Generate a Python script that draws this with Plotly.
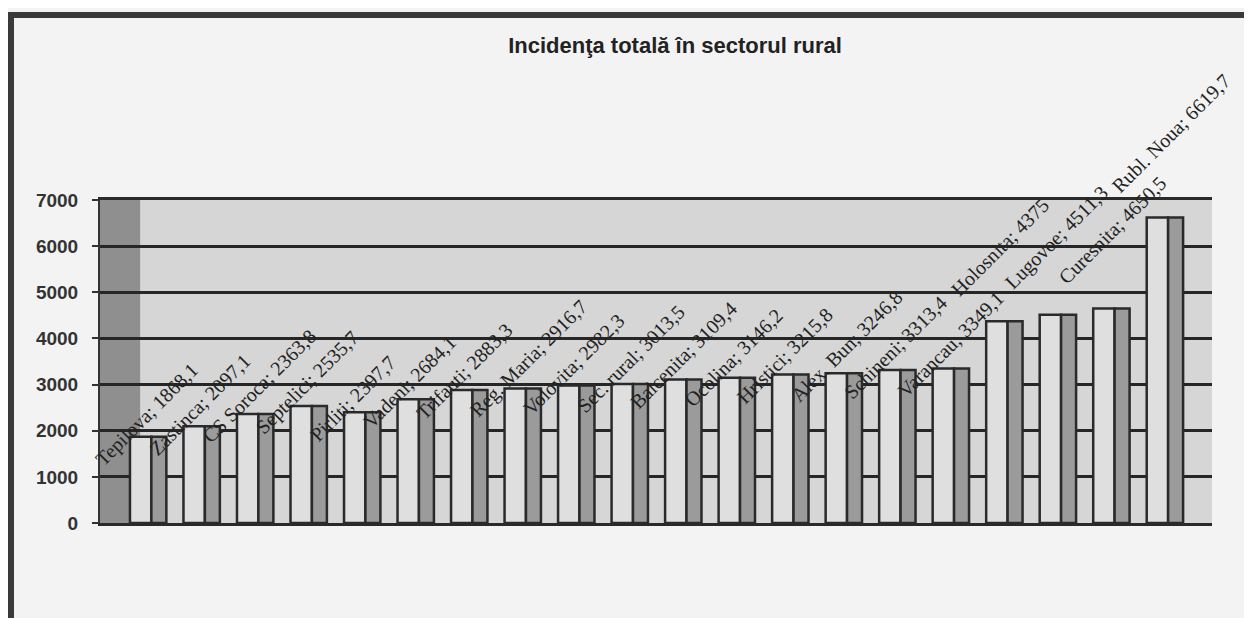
import plotly.graph_objects as go

# %% data
villages = [
    "Tepilova", "Zastinca", "CS Soroca", "Septelici", "Pirliti",
    "Vadeni", "Trifauti", "Reg. Maria", "Volovita", "Sec. rural",
    "Balcenita", "Ocolina", "Hristici", "Alex. Bun", "Schineni",
    "Varancau", "Holosnita", "Lugovoe", "Curesnita", "Rubl. Noua",
]
incidence = [
    1868.1, 2097.1, 2363.8, 2535.7, 2397.7,
    2684.1, 2883.3, 2916.7, 2982.3, 3013.5,
    3109.4, 3146.2, 3215.8, 3246.8, 3313.4,
    3349.1, 4375, 4511.3, 4650.5, 6619.7,
]
y_ticks = [0, 1000, 2000, 3000, 4000, 5000, 6000, 7000]

# %% page has an 8px body margin, so work in screen pixels minus that
OFF = 8
W, H = 1252 - OFF, 618 - OFF
PL, PR, PT, PB = 100 - OFF, 1212 - OFF, 200 - OFF, 523 - OFF


def px_x(p):
    return (p - OFF - PL) / (PR - PL)


def px_y(p):
    return (PB - (p - OFF)) / (PB - PT)


def fmt(v):
    return ("%g" % v).replace(".", ",")


fig = go.Figure()
# front face (light) and side face (dark) of the 3d-looking columns
fig.add_bar(x=villages, y=incidence, width=0.40, offset=-0.34,
            marker=dict(color="#dfdfdf", line=dict(color="#2a2a2a", width=2.5)),
            hoverinfo="skip")
fig.add_bar(x=villages, y=incidence, width=0.28, offset=0.06,
            marker=dict(color="#9b9b9b", line=dict(color="#2a2a2a", width=2.5)),
            hoverinfo="skip")

for name, v in zip(villages, incidence):
    fig.add_annotation(
        x=name, y=v, text=f"{name}; {fmt(v)}",
        xanchor="left", yanchor="bottom",
        xshift=-60, yshift=18 if v > 4000 else -36,
        textangle=-45, showarrow=False,
        font=dict(family="Liberation Serif", size=20, color="#222222"),
    )

# dark left side wall
fig.add_shape(type="rect", xref="x", yref="y", x0=-0.90, x1=-0.15, y0=0, y1=7000,
              fillcolor="#8f8f8f", line=dict(width=0), layer="below")
# scanned frame (top and left edge visible)
fig.add_shape(type="rect", xref="paper", yref="paper",
              x0=px_x(11), x1=px_x(1300), y0=px_y(680), y1=px_y(15),
              line=dict(color="#3a3a3a", width=6), fillcolor="rgba(0,0,0,0)")

fig.update_layout(
    width=W, height=H,
    margin=dict(l=PL, r=W - PR, t=PT, b=H - PB),
    barmode="overlay",
    showlegend=False,
    paper_bgcolor="#f3f3f3",
    plot_bgcolor="#d6d6d6",
    title=dict(text="<b>Incidenţa totală în sectorul rural</b>",
               x=(675 - OFF) / W, xref="container", xanchor="center",
               y=1 - (45 - OFF) / H, yref="container", yanchor="middle",
               font=dict(family="Liberation Sans", size=22, color="#222222")),
)
fig.update_xaxes(range=[-0.90, 19.88], showticklabels=False, ticks="",
                 showgrid=False, showline=True, mirror=True,
                 linecolor="#2a2a2a", linewidth=3)
fig.update_yaxes(range=[0, 7000], tickvals=y_ticks, showgrid=True,
                 gridcolor="#262626", gridwidth=3, zeroline=False,
                 showline=True, linecolor="#333333", linewidth=2,
                 ticks="outside", ticklen=6, tickwidth=2, tickcolor="#333333",
                 ticklabelstandoff=10,
                 tickfont=dict(family="Liberation Sans", size=19, color="#333333", weight="bold"))

fig.write_html("out.html")
